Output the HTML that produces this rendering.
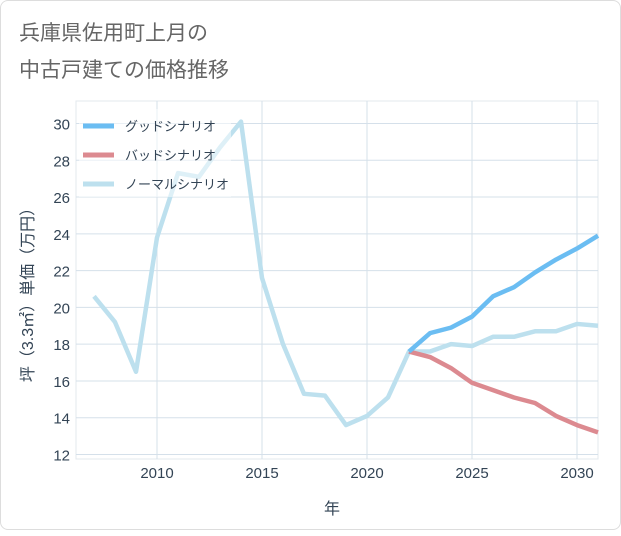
<!DOCTYPE html>
<html><head><meta charset="utf-8"><style>
body{margin:0;background:#fff;}
.card{position:absolute;left:0;top:0;width:619px;height:528px;border:1px solid #ddd;border-radius:8px;background:#fff;}
text{font-family:"Liberation Sans","Noto Sans CJK JP",sans-serif;}
</style></head><body>
<div class="card">
<svg id="chart" width="621" height="530">
<text x="18" y="39" font-size="21" fill="#666">兵庫県佐用町上月の</text>
<text x="18" y="76" font-size="21" fill="#666">中古戸建ての価格推移</text>
<g id="grid"></g><g id="series"></g><g id="axes"></g>
<text x="331" y="513" font-size="16" fill="#345" text-anchor="middle">年</text>
<text transform="translate(32,290) rotate(-90)" font-size="16" fill="#345" text-anchor="middle">坪（3.3㎡）単価（万円）</text>
<g>
<rect x="78" y="108" width="152" height="88" fill="rgba(255,255,255,0.5)"/>
<line x1="82" y1="125" x2="113" y2="125" stroke="#6bbdf2" stroke-width="5"/>
<text x="124" y="130" font-size="13" fill="#345">グッドシナリオ</text>
<line x1="82" y1="154" x2="113" y2="154" stroke="#dc8a90" stroke-width="5"/>
<text x="124" y="159" font-size="13" fill="#345">バッドシナリオ</text>
<line x1="82" y1="183" x2="113" y2="183" stroke="#bde0ee" stroke-width="5"/>
<text x="124" y="188" font-size="13" fill="#345">ノーマルシナリオ</text>
</g>
</svg></div>
<script>
const normalYears=[2007,2008,2009,2010,2011,2012,2013,2014,2015,2016,2017,2018,2019,2020,2021,2022,2023,2024,2025,2026,2027,2028,2029,2030,2031];
const normalValues=[20.6,19.2,16.5,23.8,27.3,27.1,28.7,30.1,21.6,18.0,15.3,15.2,13.6,14.1,15.1,17.6,17.6,18.0,17.9,18.4,18.4,18.7,18.7,19.1,19.0];
const scenarioYears=[2022,2023,2024,2025,2026,2027,2028,2029,2030,2031];
const goodValues=[17.6,18.6,18.9,19.5,20.6,21.1,21.9,22.6,23.2,23.9];
const badValues=[17.6,17.3,16.7,15.9,15.5,15.1,14.8,14.1,13.6,13.2];
const xTicks=[2010,2015,2020,2025,2030];
const yTicks=[12,14,16,18,20,22,24,26,28,30];
const L=75,R=597,T=100,B=458;
const xs=y=>156+(y-2010)*21;
const ys=v=>453.5-(v-12)*(331/18);
const NS="http://www.w3.org/2000/svg";
function mk(tag,p,parent){const e=document.createElementNS(NS,tag);for(const k in p)e.setAttribute(k,p[k]);document.getElementById(parent).appendChild(e);return e;}
let bg=mk('rect',{x:L,y:T,width:R-L,height:B-T,fill:'#fff',stroke:'#e3e8ee'},'grid');


xTicks.forEach(t=>{
 const l=mk('line',{x1:xs(t),x2:xs(t),y1:T,y2:B,stroke:'#d5e0ea'},'grid');
 
 
 const tx=mk('text',{x:xs(t),y:B+19,'font-size':15,fill:'#345','text-anchor':'middle'},'axes');tx.textContent=t;
 
 
});
yTicks.forEach(t=>{
 const l=mk('line',{x1:L,x2:R,y1:ys(t),y2:ys(t),stroke:'#d5e0ea'},'grid');
 
 
 const tx=mk('text',{x:L-6,y:ys(t)+6,'font-size':15,fill:'#345','text-anchor':'end'},'axes');tx.textContent=t;
 
 
});
function line(years,vals,color,name){
 const d=years.map((y,i)=>(i?'L':'M')+xs(y)+','+ys(vals[i])).join('');
 const p=mk('path',{d:d,fill:'none',stroke:color,'stroke-width':4.5,'stroke-linejoin':'round'},'series');
 
 
}
line(normalYears,normalValues,'#bde0ee','normal-scenario-line');
line(scenarioYears,badValues,'#dc8a90','bad-scenario-line');
line(scenarioYears,goodValues,'#6bbdf2','good-scenario-line');
</script>
</body></html>
